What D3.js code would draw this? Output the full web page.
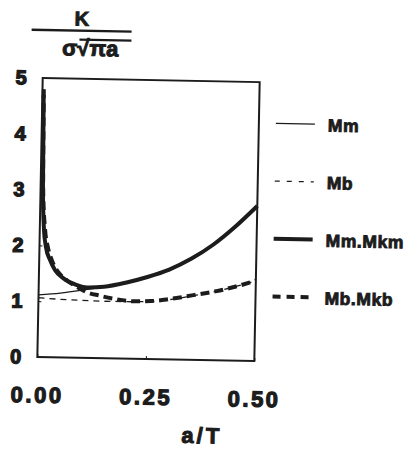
<!DOCTYPE html>
<html>
<head>
<meta charset="utf-8">
<script src="https://cdn.jsdelivr.net/npm/d3@7"></script>
<style>
  body { margin: 0; background: #fff; }
  svg text { font-family: "Liberation Sans", Arial, Helvetica, sans-serif; font-weight: bold; fill: #1c1c1c; stroke: #1c1c1c; }
</style>
</head>
<body>
<div id="chart"></div>
<script>
// a/T values and K/(sigma*sqrt(pi*a))
const mmMkmX = [0.003, 0.0055, 0.0097, 0.015, 0.025, 0.037, 0.056, 0.088, 0.111, 0.15, 0.2, 0.25, 0.3, 0.35, 0.4, 0.45, 0.5];
const mmMkmY = [4.7, 3.0, 2.28, 1.97, 1.74, 1.56, 1.42, 1.30, 1.26, 1.28, 1.36, 1.47, 1.61, 1.81, 2.07, 2.40, 2.78];

const mbMkbX = [0.003, 0.006, 0.012, 0.02, 0.03, 0.045, 0.065, 0.09, 0.11, 0.14, 0.18, 0.22, 0.26, 0.3, 0.33, 0.37, 0.41, 0.45, 0.5];
const mbMkbY = [4.8, 3.0, 2.3, 1.95, 1.72, 1.52, 1.38, 1.26, 1.18, 1.12, 1.06, 1.03, 1.04, 1.08, 1.12, 1.18, 1.24, 1.32, 1.44];

const mmX = [0, 0.05, 0.1, 0.15, 0.2, 0.25, 0.3, 0.35, 0.4, 0.45, 0.5];
const mmY = [1.11, 1.15, 1.21, 1.28, 1.36, 1.47, 1.61, 1.81, 2.07, 2.40, 2.78];

const mbX = [0, 0.05, 0.1, 0.15, 0.2, 0.25, 0.3, 0.35, 0.4, 0.45, 0.5];
const mbY = [1.06, 1.04, 1.03, 1.02, 1.02, 1.03, 1.07, 1.14, 1.22, 1.32, 1.44];

const xTicks = [0, 0.25, 0.5];
const yTicks = [0, 1, 2, 3, 4, 5];
const seriesNames = ["Mm", "Mb", "Mm.Mkm", "Mb.Mkb"];

const width = 411, height = 450;
const ink = "#1c1c1c";
const margin = {left: 40, top: 80, right: 154, bottom: 91};

// series styles: thin solid, thin dashed, thick solid, thick dashed
const styles = [
    {w: 1.3, dash: null},
    {w: 1.3, dash: "6,5"},
    {w: 4, dash: null},
    {w: 4, dash: "9,5"}
];

const svg = d3.select("#chart")
    .append("svg")
        .attr("width", width)
        .attr("height", height);

// the scan is a little tilted, so the whole drawing is too
const g = svg.append("g")
    .attr("transform", "rotate(1.1, 148, 220)");

const x = d3.scaleLinear()
    .domain([0, 0.5])
    .range([margin.left, width - margin.right]);

const y = d3.scaleLinear()
    .domain([0, 5])
    .range([height - margin.bottom, margin.top]);

// frame
g.append("rect")
    .attr("x", x(0))
    .attr("y", y(5))
    .attr("width", x(0.5) - x(0))
    .attr("height", y(0) - y(5))
    .attr("fill", "none")
    .attr("stroke", ink)
    .attr("stroke-width", 2);

// y axis
const yAxis = g.append("g")
    .attr("transform", "translate(" + x(0) + ",0)")
    .call(d3.axisLeft(y).tickValues(yTicks).tickSize(-3).tickPadding(16).tickFormat(d3.format("d")));
yAxis.select(".domain").remove();
yAxis.selectAll("line").attr("stroke", ink);
yAxis.selectAll("text")
    .style("font-size", "20px")
    .style("stroke-width", "1.3px")
    .attr("fill", ink);

// x axis
const xAxis = g.append("g")
    .attr("transform", "translate(0," + y(0) + ")")
    .call(d3.axisBottom(x).tickValues(xTicks).tickSize(-3).tickPadding(30).tickFormat(d3.format(".2f")));
xAxis.select(".domain").remove();
xAxis.selectAll("line").attr("stroke", ink);
xAxis.selectAll("text")
    .style("font-size", "22px")
    .style("letter-spacing", "2.5px")
    .style("stroke-width", "1.2px")
    .attr("fill", ink);

g.append("text")
    .attr("x", 206)
    .attr("y", 442)
    .attr("text-anchor", "middle")
    .style("font-size", "22px")
    .style("letter-spacing", "3px")
    .style("stroke-width", "1px")
    .text("a/T");

// y title as a fraction
g.append("text")
    .attr("x", 78)
    .attr("y", 27)
    .attr("text-anchor", "middle")
    .style("font-size", "20px")
    .style("stroke-width", "1px")
    .text("K");
g.append("line")
    .attr("x1", 28).attr("x2", 128)
    .attr("y1", 32).attr("y2", 32)
    .attr("stroke", ink)
    .attr("stroke-width", 2.4);
g.append("text")
    .attr("x", 87)
    .attr("y", 57)
    .attr("text-anchor", "middle")
    .style("font-size", "22px")
    .style("stroke-width", "1px")
    .text("σ√πa");
g.append("line")
    .attr("x1", 76).attr("x2", 128)
    .attr("y1", 41).attr("y2", 41)
    .attr("stroke", ink)
    .attr("stroke-width", 2.2);

const line = d3.line()
    .x(d => x(d[0]))
    .y(d => y(d[1]))
    .curve(d3.curveMonotoneX);

const series = [
    d3.zip(mmX, mmY),
    d3.zip(mbX, mbY),
    d3.zip(mmMkmX, mmMkmY),
    d3.zip(mbMkbX, mbMkbY)
];

g.append("g")
    .selectAll("path")
    .data(series)
    .join("path")
        .attr("d", line)
        .attr("fill", "none")
        .attr("stroke", ink)
        .attr("stroke-width", (d, i) => styles[i].w)
        .attr("stroke-dasharray", (d, i) => styles[i].dash);

// legend
const legend = g.selectAll(".legend")
    .data(seriesNames)
    .join("g")
        .attr("class", "legend")
        .attr("transform", (d, i) => "translate(274," + (121 + i * 57.7) + ")");

legend.append("line")
    .attr("x1", 0).attr("x2", 39)
    .attr("stroke", ink)
    .attr("stroke-width", (d, i) => styles[i].w)
    .attr("stroke-dasharray", (d, i) => styles[i].dash ? (i === 1 ? "5,7" : "8,6") : null);

legend.append("text")
    .attr("x", 52)
    .attr("y", 7)
    .style("font-size", "17.5px")
    .style("letter-spacing", "0.6px")
    .style("stroke-width", "0.9px")
    .text(d => d);
</script>
</body>
</html>
